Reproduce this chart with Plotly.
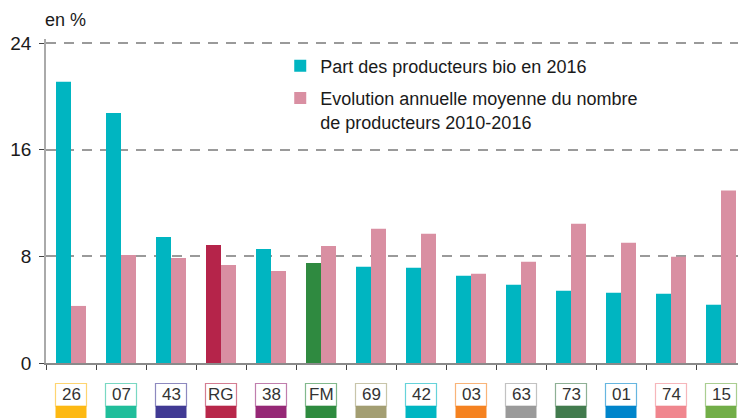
import plotly.graph_objects as go

categories = ["26", "07", "43", "RG", "38", "FM", "69", "42", "03", "63", "73", "01", "74", "15"]
part_bio_2016 = [21.1, 18.75, 9.45, 8.85, 8.55, 7.5, 7.22, 7.15, 6.55, 5.87, 5.42, 5.27, 5.2, 4.37]
evolution_2010_2016 = [4.28, 8.1, 7.88, 7.35, 6.9, 8.78, 10.07, 9.7, 6.7, 7.6, 10.45, 9.02, 7.97, 12.93]
category_colors = ["#FDB913", "#20BE9B", "#413A94", "#B8274A", "#962876", "#2E8B3F", "#A39E72",
                   "#00B6C2", "#F58220", "#9A9A9A", "#427B4E", "#0085CB", "#F0868E", "#72AE48"]
y_ticks = [0, 8, 16, 24]

TEAL = "#00B5C1"
PINK = "#D98FA2"
highlight = {"RG": "#B5244A", "FM": "#2F8A40"}
bar_colors = [highlight.get(c, TEAL) for c in categories]

FONT = "Liberation Sans, Arial, sans-serif"
TXT = "#1a1a1a"

# plot area: top 39 px, height 324 px (axis max 24.3 so that 24 lies at ~43 px)
T, H = 39, 324
def py(px):
    return 1 - (px - T) / H

fig = go.Figure()
fig.add_trace(go.Bar(
    x=categories, y=part_bio_2016, name="Part des producteurs bio en 2016",
    marker=dict(color=bar_colors, line=dict(width=0)), legendgroup="a",
))
fig.add_trace(go.Bar(
    x=categories, y=evolution_2010_2016,
    name="Evolution annuelle moyenne du nombre<br>de producteurs 2010-2016",
    marker=dict(color=PINK, line=dict(width=0)), legendgroup="b",
))

def hex_rgba(h, a):
    h = h.lstrip("#")
    return "rgba(%d,%d,%d,%.2f)" % (int(h[0:2], 16), int(h[2:4], 16), int(h[4:6], 16), a)

shapes = []
annotations = []
half = 0.31
y_top, y_mid, y_bot = py(383.5), py(406), py(425)
for i, (cat, col) in enumerate(zip(categories, category_colors)):
    shapes.append(dict(type="rect", xref="x", yref="paper", x0=i - half, x1=i + half,
                       y0=y_mid, y1=y_bot, fillcolor=col, line=dict(width=0), layer="above"))
    shapes.append(dict(type="rect", xref="x", yref="paper", x0=i - half, x1=i + half,
                       y0=y_top, y1=y_mid, fillcolor="white",
                       line=dict(color=hex_rgba(col, 0.6), width=1.2), layer="above"))
    annotations.append(dict(x=i, y=(y_top + y_mid) / 2, xref="x", yref="paper", text=cat,
                            showarrow=False, font=dict(family=FONT, size=17, color="#333333"),
                            xanchor="center", yanchor="middle"))

annotations.append(dict(x=0, y=py(20), xref="paper", yref="paper", text="en %",
                        showarrow=False, xanchor="left", yanchor="middle", xshift=-3,
                        font=dict(family=FONT, size=18, color=TXT)))

fig.update_layout(
    width=738, height=418,
    margin=dict(l=46, r=0, t=T, b=418 - T - H),
    paper_bgcolor="white", plot_bgcolor="white",
    barmode="group", bargap=0.4, bargroupgap=0,
    font=dict(family=FONT, color=TXT),
    shapes=shapes, annotations=annotations,
    legend=dict(x=0.3385, y=py(47.5), xanchor="left", yanchor="top",
                font=dict(family=FONT, size=18, color=TXT),
                bgcolor="rgba(0,0,0,0)", valign="top", tracegroupgap=6,
                itemwidth=30),
    xaxis=dict(type="category", range=[-0.5, 13.34], showticklabels=False,
               showline=True, linecolor="#8a8a8a", linewidth=1.5,
               ticks="outside", tickson="boundaries", ticklen=5, tickcolor="#444",
               tickwidth=1.2, showgrid=False, zeroline=False, fixedrange=True),
    yaxis=dict(range=[0, 24.3], tickvals=y_ticks, ticktext=[str(v) for v in y_ticks],
               showline=True, linecolor="#aaaaaa", linewidth=1.5,
               ticks="outside", ticklen=5, tickcolor="#444", tickwidth=1.2,
               ticklabelstandoff=4,
               tickfont=dict(family=FONT, size=19, color=TXT),
               showgrid=True, gridcolor="#9a9a9a", gridwidth=1.5, griddash="10px,8px",
               zeroline=False),
)

fig.write_html("out.html", config={"displayModeBar": False},
               post_script="document.body.style.margin='0';")
